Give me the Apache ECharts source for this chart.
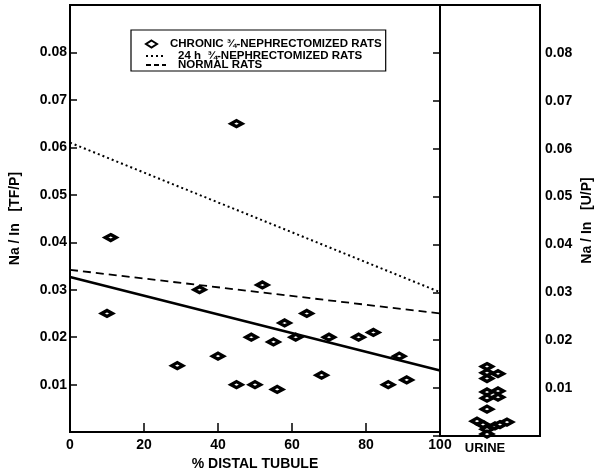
<!DOCTYPE html>
<html>
<head>
<meta charset="utf-8">
<script src="https://cdn.jsdelivr.net/npm/echarts@6/dist/echarts.min.js"></script>
<style>
  html, body { margin: 0; padding: 0; background: #fff; }
  #chart { width: 597px; height: 476px; }
</style>
</head>
<body>
<div id="chart"></div>
<script>
// distal tubule micropuncture points (chronic nephrectomized rats)
const tubulePct = [10, 11, 29, 35, 40, 45, 45, 49, 50, 52, 55, 56, 58, 61, 64, 68, 70, 78, 82, 86, 89, 91];
const tubuleNaIn = [0.025, 0.041, 0.014, 0.030, 0.016, 0.065, 0.010, 0.020, 0.010, 0.031, 0.019, 0.009,
  0.023, 0.020, 0.025, 0.012, 0.020, 0.020, 0.021, 0.010, 0.016, 0.011];

// urine points (x is only the spread inside the urine panel)
const urineX = [47, 47, 47, 58, 47, 47, 58, 58, 47, 37, 43, 47, 47, 55, 60, 67];
const urineNaIn = [0.0145, 0.0132, 0.012, 0.013, 0.0092, 0.0079, 0.0094, 0.0081, 0.0056,
  0.0031, 0.0024, 0.0014, 0.0004, 0.0021, 0.0024, 0.0029];

// regression lines, end points at 0 and 100 %
const lineX = [0, 100];
const chronicFit = [0.0327, 0.013];
const acuteFit = [0.061, 0.0295];
const normalFit = [0.0342, 0.025];

const yTicks = [0.01, 0.02, 0.03, 0.04, 0.05, 0.06, 0.07, 0.08];

const CHRONIC = 'CHRONIC ¾-NEPHRECTOMIZED RATS';
const ACUTE = '24 h  ¾-NEPHRECTOMIZED RATS';
const NORMAL = 'NORMAL RATS';

const FONT = 'Liberation Sans';
const pair = (xs, ys) => xs.map((x, i) => [x, ys[i]]);

const chart = echarts.init(document.getElementById('chart'));

const yLabel = (v) => {
  const hit = yTicks.find(t => Math.abs(t - v) < 1e-9);
  return hit ? hit.toFixed(2) : '';
};

const diamond = {
  symbol: 'diamond',
  symbolSize: [11, 6],
  itemStyle: { color: '#fff', borderColor: '#000', borderWidth: 3.6, opacity: 1 }
};

const legendText = { fontFamily: FONT, fontWeight: 'bold', fontSize: 11.5, lineHeight: 11, color: '#000' };

const option = {
  animation: false,
  backgroundColor: '#fff',
  textStyle: { fontFamily: FONT, color: '#000' },
  grid: [
    { left: 68, right: 157, top: 5, bottom: 40, show: true, borderColor: '#000', borderWidth: 2 },
    { left: 440, right: 57, top: 5, bottom: 40, show: true, borderColor: '#000', borderWidth: 2 }
  ],
  legend: [
    {
      // boxed legend, holds the scatter entry
      orient: 'vertical',
      left: 131,
      top: 30,
      padding: [8, 4, 21, 14],
      borderColor: '#000',
      borderWidth: 1.2,
      itemWidth: 11,
      itemHeight: 7,
      data: [CHRONIC],
      textStyle: { ...legendText, padding: [0, 0, 0, 8] }
    },
    {
      orient: 'vertical',
      left: 145,
      top: 50,
      padding: 0,
      itemWidth: 20,
      itemHeight: 7,
      itemGap: -3,
      data: [
        { name: ACUTE, itemStyle: { opacity: 0 }, lineStyle: { color: '#000', width: 2, type: [2, 3] } },
        { name: NORMAL, itemStyle: { opacity: 0 }, lineStyle: { color: '#000', width: 1.8, type: [5, 3] } }
      ],
      textStyle: { ...legendText, padding: [0, 0, 0, 7] }
    }
  ],
  xAxis: [
    {
      gridIndex: 0, type: 'value', min: 0, max: 100, interval: 20,
      splitLine: { show: false },
      axisLine: { lineStyle: { color: '#000', width: 2 } },
      axisTick: { inside: true, length: 9, lineStyle: { color: '#000', width: 1.5 } },
      axisLabel: { margin: 6, fontSize: 14, fontWeight: 'bold', color: '#000', fontFamily: FONT },
      name: '% DISTAL TUBULE', nameLocation: 'middle', nameGap: 24,
      nameTextStyle: { fontSize: 14, fontWeight: 'bold', color: '#000', fontFamily: FONT }
    },
    {
      gridIndex: 1, type: 'value', min: 0, max: 100,
      splitLine: { show: false },
      axisLine: { lineStyle: { color: '#000', width: 2 } },
      axisTick: { show: false },
      axisLabel: { show: false },
      name: 'URINE', nameLocation: 'middle', nameGap: 6,
      nameTextStyle: { fontSize: 13, fontWeight: 'bold', color: '#000', fontFamily: FONT, padding: [0, 10, 0, 0] }
    }
  ],
  yAxis: [
    {
      gridIndex: 0, type: 'value', min: 0, max: 0.09, interval: 0.01,
      splitLine: { show: false },
      axisLine: { lineStyle: { color: '#000', width: 2 } },
      axisTick: { inside: true, length: 7, lineStyle: { color: '#000', width: 1.5 } },
      axisLabel: { margin: 3, fontSize: 14, fontWeight: 'bold', color: '#000', fontFamily: FONT, formatter: yLabel },
      name: 'Na / In   [TF/P]', nameLocation: 'middle', nameGap: 48, nameRotate: 90,
      nameTextStyle: { fontSize: 14, fontWeight: 'bold', color: '#000', fontFamily: FONT }
    },
    {
      gridIndex: 1, type: 'value', min: 0, max: 0.09, interval: 0.01, position: 'right',
      splitLine: { show: false },
      axisLine: { lineStyle: { color: '#000', width: 2 } },
      axisTick: { inside: true, length: 7, lineStyle: { color: '#000', width: 1.5 } },
      axisLabel: { margin: 5, fontSize: 14, fontWeight: 'bold', color: '#000', fontFamily: FONT, formatter: yLabel },
      name: 'Na / In   [U/P]', nameLocation: 'middle', nameGap: 40, nameRotate: 90,
      nameTextStyle: { fontSize: 14, fontWeight: 'bold', color: '#000', fontFamily: FONT }
    }
  ],
  series: [
    {
      name: CHRONIC, type: 'scatter',
      xAxisIndex: 0, yAxisIndex: 0,
      ...diamond,
      data: pair(tubulePct, tubuleNaIn), z: 5
    },
    {
      name: 'URINE', type: 'scatter',
      xAxisIndex: 1, yAxisIndex: 1,
      ...diamond,
      data: pair(urineX, urineNaIn), z: 5
    },
    {
      name: 'chronic fit', type: 'line', symbol: 'none',
      xAxisIndex: 0, yAxisIndex: 0,
      lineStyle: { color: '#000', width: 2.6 },
      data: pair(lineX, chronicFit)
    },
    {
      name: ACUTE, type: 'line', symbol: 'none',
      xAxisIndex: 0, yAxisIndex: 0,
      itemStyle: { color: '#000' },
      lineStyle: { color: '#000', width: 2, type: [2, 3] },
      data: pair(lineX, acuteFit)
    },
    {
      name: NORMAL, type: 'line', symbol: 'none',
      xAxisIndex: 0, yAxisIndex: 0,
      itemStyle: { color: '#000' },
      lineStyle: { color: '#000', width: 1.8, type: [8, 5] },
      data: pair(lineX, normalFit)
    }
  ]
};

chart.setOption(option);
</script>
</body>
</html>
